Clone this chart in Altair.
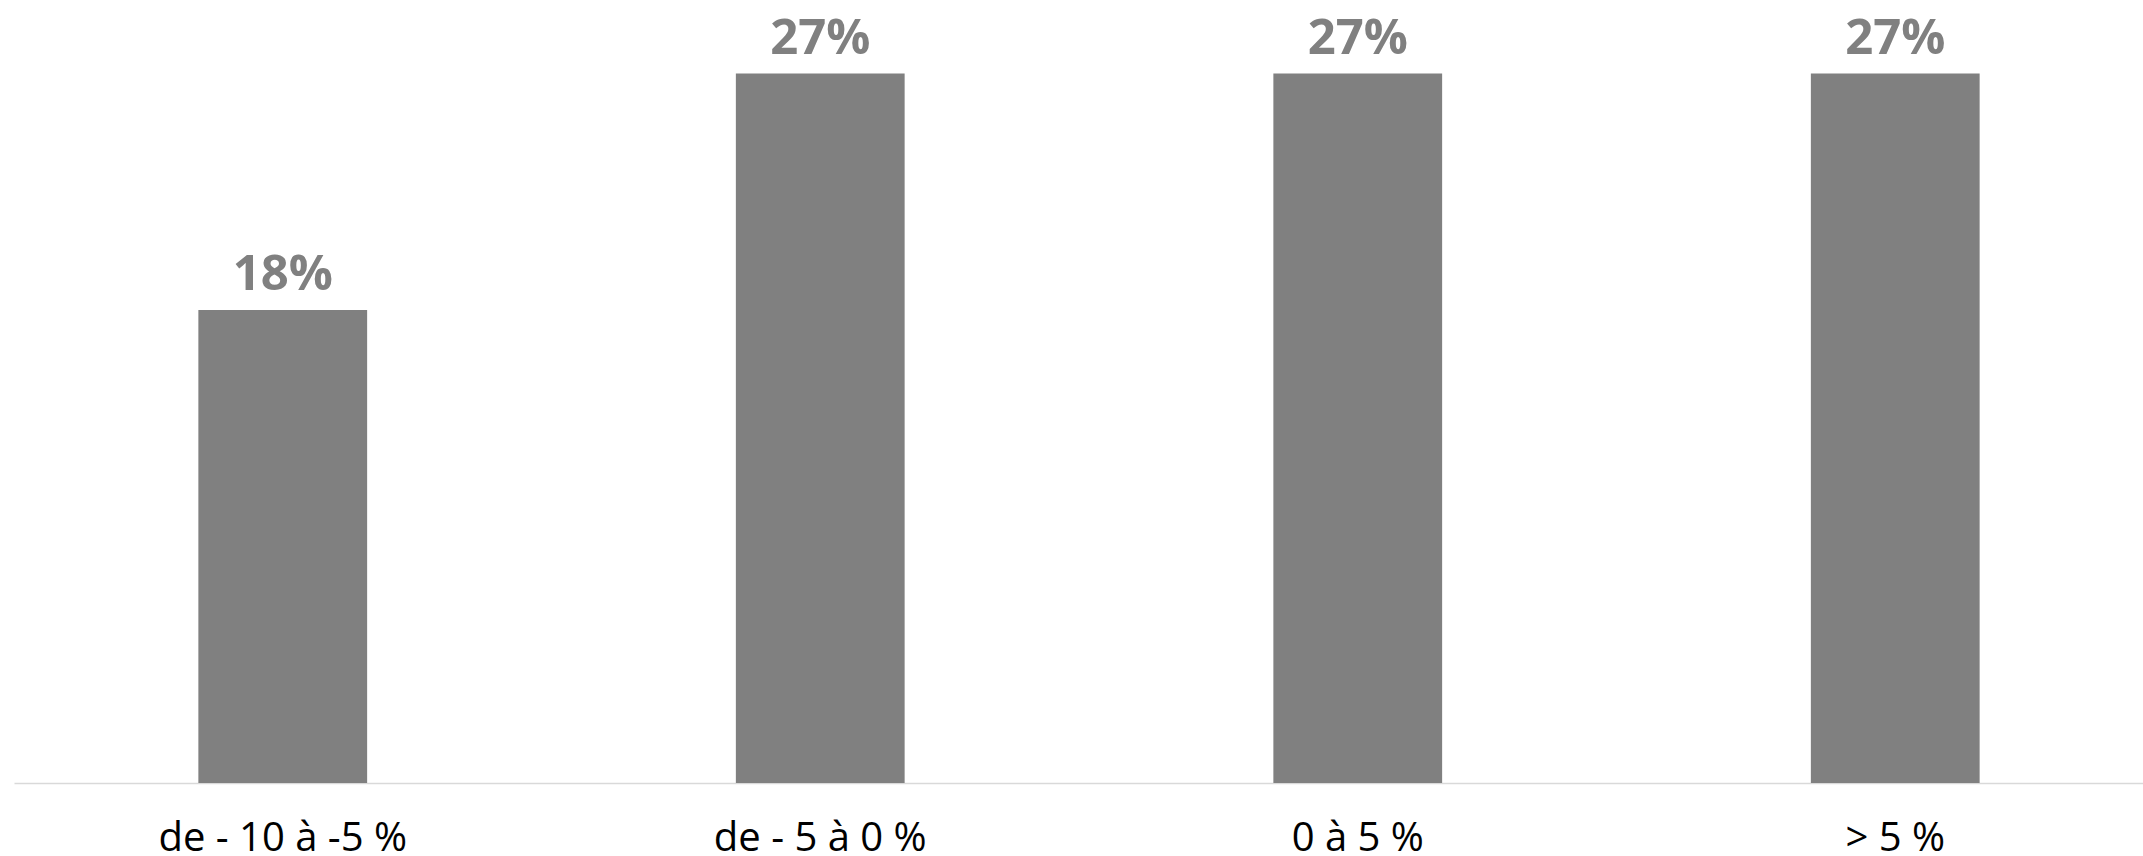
import altair as alt
import pandas as pd

categories = ["de - 10 à -5 %", "de - 5 à 0 %", "0 à 5 %", "> 5 %"]
values = [0.18, 0.27, 0.27, 0.27]
labels = ["18%", "27%", "27%", "27%"]

df = pd.DataFrame({"cat": categories, "val": values, "lab": labels})

x = alt.X("cat:N", sort=categories, title=None,
          scale=alt.Scale(range=[0, 2150], paddingInner=0.686, paddingOuter=0.343),
          axis=alt.Axis(labelAngle=0, ticks=False, domainColor="#d9d9d9", domainWidth=1.5,
                        labelFont="Open Sans", labelFontSize=40, labelColor="#000000",
                        labelPadding=35, labelLimit=0, grid=False))
y = alt.Y("val:Q", scale=alt.Scale(domain=[0, 0.298], nice=False, zero=True), axis=None)

bars = alt.Chart(df).mark_bar(color="#808080").encode(x=x, y=y)
text = alt.Chart(df).mark_text(font="Open Sans", fontSize=49, fontWeight="bold", color="#808080",
                               baseline="alphabetic", dy=-20).encode(x=x, y=y, text="lab:N")

chart = (bars + text).properties(
    width=2129, height=783,
    autosize=alt.AutoSizeParams(type="none"),
    padding={"left": 14, "top": 0, "right": 0, "bottom": 73},
).configure_view(stroke=None)

chart.save("out.html", embed_options={"renderer": "svg", "actions": False})
